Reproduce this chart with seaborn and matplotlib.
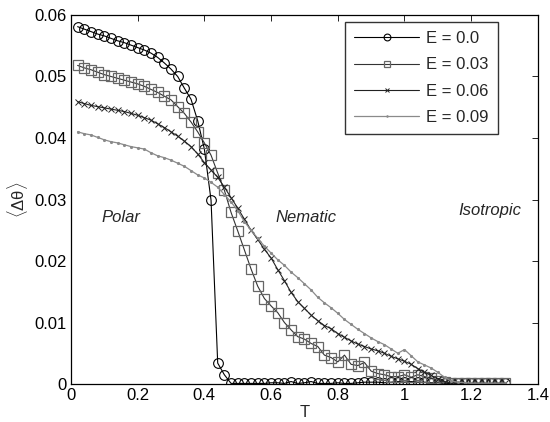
import numpy as np
import pandas as pd
import matplotlib
matplotlib.use("Agg")
import matplotlib.pyplot as plt
import seaborn as sns

T = [round(0.02 * k, 2) for k in range(1, 66)]

E00 = [0.0581, 0.0577, 0.0573, 0.0569, 0.0566, 0.0562, 0.0558, 0.0555, 0.0551, 0.0547,
       0.0543, 0.0538, 0.0531, 0.0522, 0.0512, 0.0500, 0.0481, 0.0463, 0.0428, 0.0382,
       0.0299, 0.0034, 0.0015, 0.0001, 0.0001, 0.0001, 0.0001, 0.0001, 0.0001, 0.0002,
       0.0002, 0.0001, 0.0004, 0.0001, 0.0002, 0.0004, 0.0001, 0.0001, 0.0001, 0.0002,
       0.0001, 0.0001, 0.0002, 0.0003, 0.0003, 0.0003, 0.0002, 0.0003, 0.0004, 0.0003,
       0.0004, 0.0003, 0.0003, 0.0002, 0.0002, 0.0001, 0.0001, 0.0001, 0.0001, 0.0001,
       0.0001, 0.0001, 0.0001, 0.0001, 0.0001]

E03 = [0.0518, 0.0514, 0.0511, 0.0507, 0.0503, 0.0500, 0.0497, 0.0494, 0.0491, 0.0488,
       0.0484, 0.0479, 0.0474, 0.0468, 0.0462, 0.0451, 0.0440, 0.0426, 0.0410, 0.0392,
       0.0372, 0.0343, 0.0315, 0.0279, 0.0249, 0.0218, 0.0187, 0.0159, 0.0139, 0.0127,
       0.0116, 0.0100, 0.0088, 0.0077, 0.0073, 0.0066, 0.0061, 0.0047, 0.0043, 0.0036,
       0.0047, 0.0032, 0.0030, 0.0035, 0.0021, 0.0017, 0.0015, 0.0012, 0.0012, 0.0015,
       0.0011, 0.0015, 0.0012, 0.0010, 0.0005, 0.0003, 0.0002, 0.0001, 0.0001, 0.0001,
       0.0001, 0.0001, 0.0001, 0.0001, 0.0001]

E06 = [0.0459, 0.0456, 0.0453, 0.0451, 0.0449, 0.0447, 0.0445, 0.0443, 0.0440, 0.0437,
       0.0433, 0.0429, 0.0423, 0.0417, 0.0410, 0.0403, 0.0395, 0.0386, 0.0374, 0.0360,
       0.0348, 0.0336, 0.0320, 0.0303, 0.0286, 0.0268, 0.0250, 0.0235, 0.0219, 0.0205,
       0.0186, 0.0168, 0.0149, 0.0134, 0.0123, 0.0112, 0.0103, 0.0095, 0.0090, 0.0082,
       0.0076, 0.0070, 0.0065, 0.0061, 0.0057, 0.0054, 0.0050, 0.0045, 0.0041, 0.0037,
       0.0032, 0.0025, 0.0019, 0.0014, 0.0008, 0.0004, 0.0002, 0.0001, 0.0001, 0.0001,
       0.0001, 0.0001, 0.0001, 0.0001, 0.0001]

E09 = [0.0410, 0.0407, 0.0405, 0.0401, 0.0397, 0.0394, 0.0392, 0.0389, 0.0386, 0.0384,
       0.0382, 0.0376, 0.0371, 0.0368, 0.0364, 0.0359, 0.0354, 0.0347, 0.0340, 0.0335,
       0.0328, 0.0320, 0.0308, 0.0296, 0.0282, 0.0264, 0.0250, 0.0237, 0.0224, 0.0213,
       0.0202, 0.0193, 0.0182, 0.0173, 0.0163, 0.0153, 0.0141, 0.0132, 0.0124, 0.0115,
       0.0105, 0.0097, 0.0089, 0.0082, 0.0075, 0.0069, 0.0064, 0.0057, 0.0050, 0.0056,
       0.0046, 0.0036, 0.0031, 0.0026, 0.0019, 0.0011, 0.0005, 0.0003, 0.0002, 0.0001,
       0.0001, 0.0001, 0.0001, 0.0001, 0.0001]

labels = ["E = 0.0", "E = 0.03", "E = 0.06", "E = 0.09"]
xticks = [0, 0.2, 0.4, 0.6, 0.8, 1, 1.2, 1.4]
xticklabels = ["0", "0.2", "0.4", "0.6", "0.8", "1", "1.2", "1.4"]
yticks = [0, 0.01, 0.02, 0.03, 0.04, 0.05, 0.06]
yticklabels = ["0", "0.01", "0.02", "0.03", "0.04", "0.05", "0.06"]
regions = ["Polar", "Nematic", "Isotropic"]
region_x = [0.15, 0.705, 1.255]
region_y = [0.0271, 0.0271, 0.0282]

sns.set_style("white")
plt.rcParams["font.family"] = ["Liberation Sans", "DejaVu Sans"]
plt.rcParams["mathtext.fontset"] = "custom"
plt.rcParams["mathtext.rm"] = "Liberation Sans"
plt.rcParams["mathtext.it"] = "Liberation Sans"

fig = plt.figure(figsize=(5.5, 4.22), dpi=100)
ax = fig.add_axes([0.129, 0.09, 0.849, 0.8745])

styles = [
    dict(color="black", marker="o", markersize=7, markerfacecolor="none",
         markeredgecolor="black", markeredgewidth=0.8, linewidth=0.8),
    dict(color="#333333", marker="s", markersize=6.5, markerfacecolor="none",
         markeredgecolor="#666666", markeredgewidth=0.9, linewidth=0.8),
    dict(color="#222222", marker="x", markersize=5, markeredgecolor="#222222",
         markeredgewidth=0.7, linewidth=0.8),
    dict(color="#8a8a8a", marker=".", markersize=3, markeredgecolor="#8a8a8a",
         linewidth=0.9),
]

for vals, lab, st in zip([E00, E03, E06, E09], labels, styles):
    df = pd.DataFrame({"T": T, "v": vals})
    sns.lineplot(data=df, x="T", y="v", ax=ax, label=lab, sort=False,
                 errorbar=None, **st)

ax.set_xlim(0, 1.4)
ax.set_ylim(0, 0.06)
ax.set_xticks(xticks)
ax.set_xticklabels(xticklabels)
ax.set_yticks(yticks)
ax.set_yticklabels(yticklabels)
ax.tick_params(direction="in", top=True, right=True, length=4, width=0.6,
               labelsize=12, colors="black", pad=3)
for s in ax.spines.values():
    s.set_visible(True)
    s.set_color("black")
    s.set_linewidth(0.9)

ax.set_xlabel("T", fontsize=12, labelpad=1)
ax.set_ylabel(r"$\langle\Delta\theta\rangle$", fontsize=12, labelpad=3)

for name, xx, yy in zip(regions, region_x, region_y):
    ax.text(xx, yy, name, style="italic", fontsize=12, ha="center", va="center")

leg = ax.legend(loc="upper right", bbox_to_anchor=(0.914, 0.981), fontsize=12,
                frameon=True, fancybox=False, edgecolor="black",
                handlelength=3.9, borderpad=0.55, labelspacing=0.68,
                handletextpad=0.4, markerscale=0.7, borderaxespad=0)
leg.get_frame().set_linewidth(1.0)

fig.savefig("out.png", dpi=100)
